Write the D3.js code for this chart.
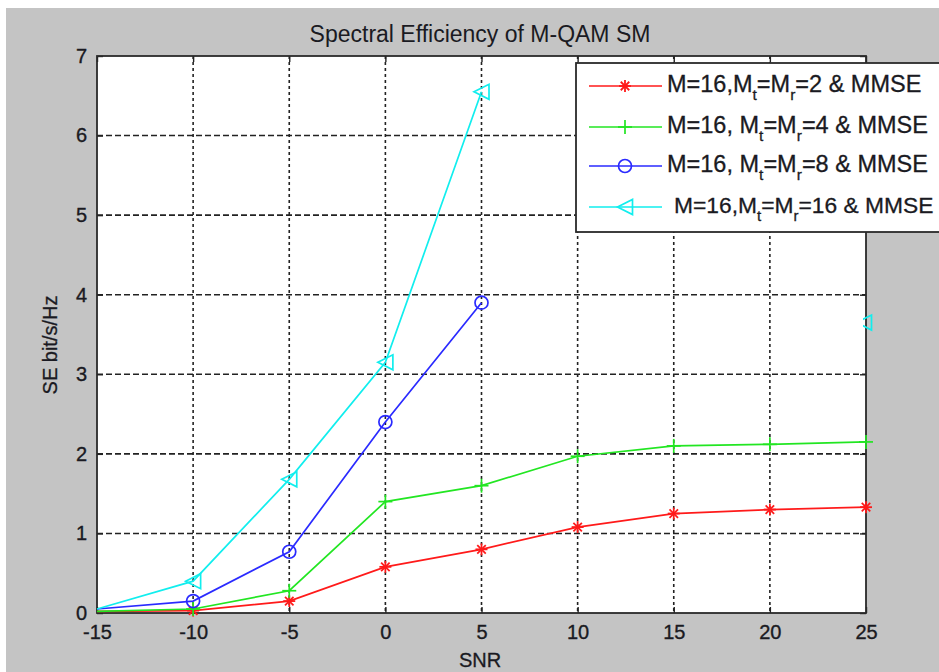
<!DOCTYPE html>
<html>
<head>
<meta charset="utf-8">
<script src="https://cdn.jsdelivr.net/npm/d3@7"></script>
<style>
  html, body { margin: 0; padding: 0; background: #ffffff; }
  svg { display: block; }
  text { font-family: "Liberation Sans", Arial, sans-serif; fill: #1a1a22; }
</style>
</head>
<body>
<svg id="chart" width="939" height="672"></svg>
<script>
// SNR sample points (dB)
const snr = [-15, -10, -5, 0, 5, 10, 15, 20, 25];
const snrShort = [-15, -10, -5, 0, 5];

// Spectral efficiency (bit/s/Hz) per antenna configuration
const se2  = [0.02, 0.03, 0.15, 0.58, 0.80, 1.08, 1.25, 1.30, 1.33];
const se4  = [0.02, 0.05, 0.28, 1.40, 1.60, 1.97, 2.10, 2.12, 2.15];
const se8  = [0.05, 0.15, 0.77, 2.40, 3.90];
const se16 = [0.05, 0.40, 1.68, 3.15, 6.55];

// lone marker left on the right edge
const strayX = [25];
const strayY = [3.65];

const xTicks = [-15, -10, -5, 0, 5, 10, 15, 20, 25];
const yTicks = [0, 1, 2, 3, 4, 5, 6, 7];

const titleText = "Spectral Efficiency of M-QAM SM";
const xLabel = "SNR";
const yLabel = "SE bit/s/Hz";

const svg = d3.select("#chart");
const W = 939, H = 672;
const plot = { left: 97, right: 866, top: 56, bottom: 613 };

const x = d3.scaleLinear().domain([-15, 25]).range([plot.left, plot.right]);
const y = d3.scaleLinear().domain([0, 7]).range([plot.bottom, plot.top]);

// figure background
svg.append("rect").attr("x", 6).attr("y", 8).attr("width", W - 6).attr("height", H - 8)
  .attr("fill", "#c4c4c4");

// axes area
svg.append("rect")
  .attr("x", plot.left).attr("y", plot.top)
  .attr("width", plot.right - plot.left).attr("height", plot.bottom - plot.top)
  .attr("fill", "#ffffff");

// clip that keeps only the part of the edge marker right of the axes
svg.append("defs").append("clipPath").attr("id", "edgeClip")
  .append("rect")
  .attr("x", plot.right - 3).attr("y", plot.top)
  .attr("width", 20).attr("height", plot.bottom - plot.top);

// grid
const grid = svg.append("g").attr("class", "grid");
grid.selectAll("line.v").data(xTicks.slice(1, -1)).join("line")
  .attr("class", "v")
  .attr("x1", d => x(d)).attr("x2", d => x(d))
  .attr("y1", plot.top).attr("y2", plot.bottom)
  .attr("stroke", "#222").attr("stroke-width", 1.6)
  .attr("stroke-dasharray", "3,3");
grid.selectAll("line.h").data(yTicks.slice(1, -1)).join("line")
  .attr("class", "h")
  .attr("y1", d => y(d)).attr("y2", d => y(d))
  .attr("x1", plot.left).attr("x2", plot.right)
  .attr("stroke", "#222").attr("stroke-width", 1.6)
  .attr("stroke-dasharray", "6,3");

// axes with inward ticks
const fmt = d => String(d);
const gx = svg.append("g").attr("transform", `translate(0,${plot.bottom})`)
  .call(d3.axisBottom(x).tickValues(xTicks).tickFormat(fmt)
    .tickSizeInner(-6).tickSizeOuter(0).tickPadding(12));
const gy = svg.append("g").attr("transform", `translate(${plot.left},0)`)
  .call(d3.axisLeft(y).tickValues(yTicks).tickFormat(fmt)
    .tickSizeInner(-6).tickSizeOuter(0).tickPadding(10));
const gt = svg.append("g").attr("transform", `translate(0,${plot.top})`)
  .call(d3.axisTop(x).tickValues(xTicks).tickFormat("")
    .tickSizeInner(-6).tickSizeOuter(0));
const gr = svg.append("g").attr("transform", `translate(${plot.right},0)`)
  .call(d3.axisRight(y).tickValues(yTicks).tickFormat("")
    .tickSizeInner(-6).tickSizeOuter(0));
[gx, gy, gt, gr].forEach(g => {
  g.select(".domain").remove();
  g.selectAll(".tick line").attr("stroke", "#222").attr("stroke-width", 1.4);
  g.selectAll(".tick text")
    .attr("fill", "#1a1a22")
    .attr("stroke", "#1a1a22").attr("stroke-width", 0.35)
    .style("font-family", '"Liberation Sans", Arial, sans-serif')
    .style("font-size", "20px");
});

// frame
svg.append("rect")
  .attr("x", plot.left).attr("y", plot.top)
  .attr("width", plot.right - plot.left).attr("height", plot.bottom - plot.top)
  .attr("fill", "none").attr("stroke", "#2a2a2a").attr("stroke-width", 1.8);

// marker shapes
function drawMarker(g, kind, cx, cy, color) {
  if (kind === "star") {
    const r = 6;
    [0, 45, 90, 135].forEach(a => {
      const rad = a * Math.PI / 180;
      g.append("line")
        .attr("x1", cx - r * Math.cos(rad)).attr("y1", cy - r * Math.sin(rad))
        .attr("x2", cx + r * Math.cos(rad)).attr("y2", cy + r * Math.sin(rad))
        .attr("stroke", color).attr("stroke-width", 1.8);
    });
  } else if (kind === "plus") {
    const r = 7;
    g.append("line").attr("x1", cx - r).attr("x2", cx + r).attr("y1", cy).attr("y2", cy)
      .attr("stroke", color).attr("stroke-width", 1.7);
    g.append("line").attr("x1", cx).attr("x2", cx).attr("y1", cy - r).attr("y2", cy + r)
      .attr("stroke", color).attr("stroke-width", 1.7);
  } else if (kind === "circle") {
    g.append("circle").attr("cx", cx).attr("cy", cy).attr("r", 6.5)
      .attr("fill", "none").attr("stroke", color).attr("stroke-width", 1.7);
  } else if (kind === "triangle") {
    const r = 7.5;
    g.append("path")
      .attr("d", `M${cx - r},${cy} L${cx + r},${cy - r} L${cx + r},${cy + r} Z`)
      .attr("fill", "none").attr("stroke", color).attr("stroke-width", 1.7);
  }
}

const series = [
  { xs: snr, ys: se2, color: "#ff1a1a", marker: "star",
    label: ["M=16,M", "t", "=M", "r", "=2 & MMSE"], tx: 667, fs: 23.5 },
  { xs: snr, ys: se4, color: "#22e622", marker: "plus",
    label: ["M=16, M", "t", "=M", "r", "=4 & MMSE"], tx: 667, fs: 23.5 },
  { xs: snrShort, ys: se8, color: "#2a2aff", marker: "circle",
    label: ["M=16, M", "t", "=M", "r", "=8 & MMSE"], tx: 667, fs: 23.5 },
  { xs: snrShort, ys: se16, color: "#11eeee", marker: "triangle",
    label: ["M=16,M", "t", "=M", "r", "=16 & MMSE"], tx: 674, fs: 22.8 }
];

const line = d3.line().x(d => x(d[0])).y(d => y(d[1]));
const dataG = svg.append("g");
series.forEach(s => {
  const pts = s.xs.map((v, i) => [v, s.ys[i]]);
  dataG.append("path").datum(pts)
    .attr("d", line)
    .attr("fill", "none").attr("stroke", s.color).attr("stroke-width", 1.7);
  const mg = dataG.append("g");
  // the first sample sits on the axis corner and carries no marker
  pts.slice(1).forEach(p => drawMarker(mg, s.marker, x(p[0]), y(p[1]), s.color));
});

// stray marker at the right edge
const strayG = svg.append("g").attr("clip-path", "url(#edgeClip)");
strayX.forEach((v, i) => drawMarker(strayG, "triangle", x(v) - 2, y(strayY[i]), "#11eeee"));

// legend
const lg = svg.append("g");
lg.append("rect").attr("x", 576).attr("y", 63).attr("width", 380).attr("height", 169)
  .attr("fill", "#ffffff").attr("stroke", "#2a2a2a").attr("stroke-width", 1.8);
const rowY = [86, 127, 166, 207];
series.forEach((s, i) => {
  const ry = rowY[i];
  lg.append("line").attr("x1", 589).attr("x2", 662).attr("y1", ry).attr("y2", ry)
    .attr("stroke", s.color).attr("stroke-width", 1.7);
  drawMarker(lg, s.marker, 625, ry, s.color);
  const t = lg.append("text").attr("x", s.tx).attr("y", ry + 6)
    .attr("stroke", "#1a1a22").attr("stroke-width", 0.3)
    .style("font-size", s.fs + "px");
  s.label.forEach((part, k) => {
    const sub = k === 1 || k === 3;
    const ts = t.append("tspan").text(part);
    if (sub) ts.attr("dy", 8).style("font-size", (s.fs * 0.66) + "px");
    else if (k > 0) ts.attr("dy", -8);
  });
});

// title and axis labels
svg.append("text").attr("x", 480).attr("y", 42).attr("text-anchor", "middle")
  .style("font-size", "23px").text(titleText);
svg.append("text").attr("x", 480).attr("y", 667).attr("text-anchor", "middle")
  .attr("stroke", "#1a1a22").attr("stroke-width", 0.3)
  .style("font-size", "20px").text(xLabel);
svg.append("text").attr("transform", "translate(57,345) rotate(-90)")
  .attr("text-anchor", "middle")
  .attr("stroke", "#1a1a22").attr("stroke-width", 0.3)
  .style("font-size", "20px").text(yLabel);
</script>
</body>
</html>
